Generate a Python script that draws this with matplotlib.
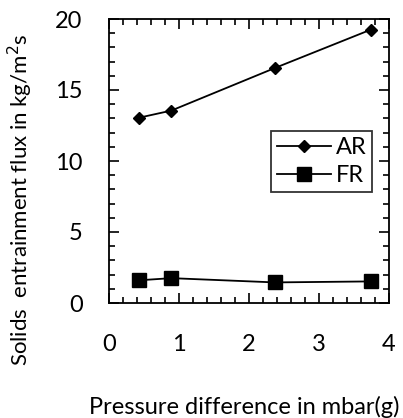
import matplotlib
matplotlib.use("Agg")
import matplotlib.pyplot as plt
from matplotlib.ticker import MultipleLocator

# data
pressure = [0.43, 0.89, 2.37, 3.74]
ar_flux = [13.05, 13.55, 16.55, 19.25]
fr_flux = [1.6, 1.75, 1.45, 1.52]

plt.rcParams['font.family'] = ['Lato', 'DejaVu Sans']

fig = plt.figure(figsize=(4.03, 4.18), dpi=100)
ax = fig.add_axes([109 / 403, 1 - 303 / 418, 280 / 403, 284 / 418])

ax.plot(pressure, ar_flux, color='black', lw=1.3, marker='D', ms=6, label='AR')
ax.plot(pressure, fr_flux, color='black', lw=1.3, marker='s', ms=10, label='FR')

ax.set_xlim(0, 4)
ax.set_ylim(0, 20)
ax.xaxis.set_major_locator(MultipleLocator(1))
ax.xaxis.set_minor_locator(MultipleLocator(0.2))
ax.yaxis.set_major_locator(MultipleLocator(5))
ax.yaxis.set_minor_locator(MultipleLocator(1))
ax.tick_params(which='both', direction='in', top=True, right=True, width=1.2)
ax.tick_params(which='major', length=7)
ax.tick_params(which='minor', length=4)
ax.tick_params(axis='x', which='major', pad=22, labelsize=17)
ax.tick_params(axis='y', which='major', pad=19, labelsize=17)
for sp in ax.spines.values():
    sp.set_linewidth(1.3)

leg = ax.legend(loc='upper right', bbox_to_anchor=(0.94, 0.605), borderaxespad=0,
                fancybox=False, edgecolor='black', fontsize=17, handlelength=2.3,
                handletextpad=0.2, borderpad=0.25, labelspacing=0.3)
leg.get_frame().set_linewidth(1.3)

fig.text(20 / 403, 1 - 200 / 418, 'Solids  entrainment flux in kg/m$^2$s',
         rotation=90, ha='center', va='center', fontsize=16)
fig.text(244 / 403, 1 - 407 / 418, 'Pressure difference in mbar(g)',
         ha='center', va='center', fontsize=17)

fig.savefig('out.png', dpi=100)
